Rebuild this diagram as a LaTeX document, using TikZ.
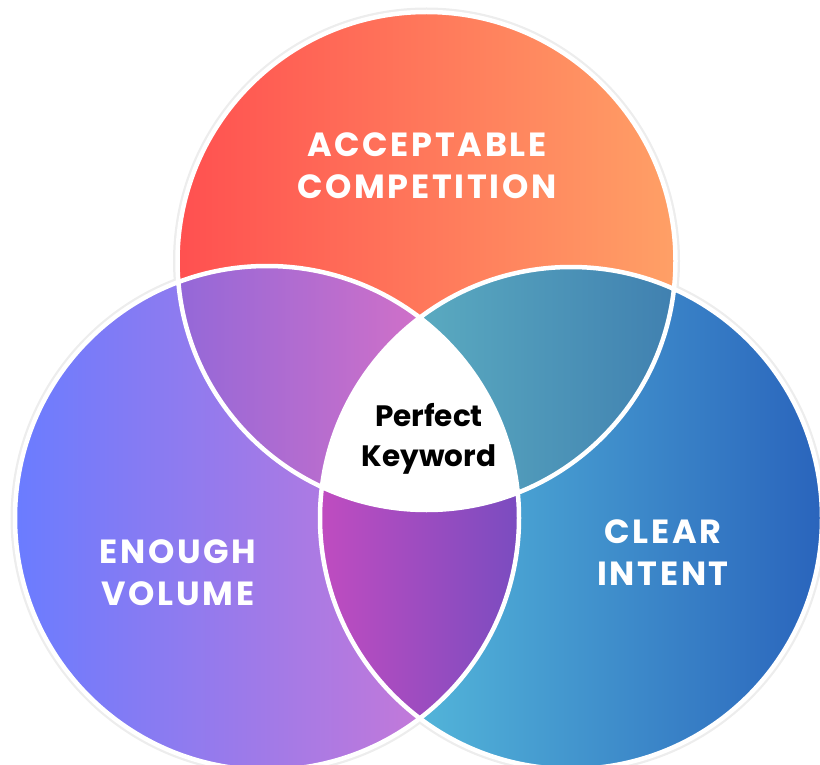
\documentclass[tikz,border=0pt]{standalone}
\usepackage{fontspec}
\setmainfont{Poppins}
\newfontfamily\capsfont{Poppins}[LetterSpace=8]

\definecolor{topA}{HTML}{FF5050}
\definecolor{topB}{HTML}{FFA066}
\definecolor{leftA}{HTML}{6A7CFF}
\definecolor{leftB}{HTML}{D878D0}
\definecolor{rightA}{HTML}{5CC8E0}
\definecolor{rightB}{HTML}{2A64BC}
\definecolor{tlA}{HTML}{9468D8}
\definecolor{tlB}{HTML}{D070C8}
\definecolor{trA}{HTML}{5AAAC0}
\definecolor{trB}{HTML}{4080B0}
\definecolor{botA}{HTML}{C04CC0}
\definecolor{botM}{HTML}{B43CE0}
\definecolor{botB}{HTML}{7A4CC0}

\begin{document}
\begin{tikzpicture}[x=1pt, y=-1pt,
	caption/.style={text=white, align=center, font=\capsfont\bfseries\fontsize{33.5}{42}\selectfont},
	centre/.style={text=black, align=center, font=\bfseries\fontsize{29.5}{40}\selectfont}]
	
	% 1. Centres and radii of the three sets
	\def\radT{249}
	\def\radL{252}
	\def\radR{251}
	\coordinate (T) at (426.5,261);
	\coordinate (L) at (267,518);
	\coordinate (R) at (571,518);
	
	\useasboundingbox (0,0) rectangle (820,765);
	\clip (0,0) rectangle (820,765);
	
	% 2. Faint halo round the outside
	\draw[black!7, line width=9pt] (T) circle (\radT) (L) circle (\radL) (R) circle (\radR);
	
	% 3. The three sets
	\shade[left color=topA, right color=topB] (T) circle (\radT);
	\shade[left color=leftA, right color=leftB] (L) circle (\radL);
	\shade[left color=rightA, right color=rightB] (R) circle (\radR);
	
	% 4. Pairwise overlaps
	\begin{scope}
		\clip (T) circle (\radT);
		\clip (L) circle (\radL);
		\shade[left color=tlA, right color=tlB] (178,260) rectangle (422,510);
	\end{scope}
	\begin{scope}
		\clip (T) circle (\radT);
		\clip (R) circle (\radR);
		\shade[left color=trA, right color=trB] (420,260) rectangle (676,510);
	\end{scope}
	\begin{scope}
		\clip (L) circle (\radL);
		\clip (R) circle (\radR);
		\shade[left color=botA, middle color=botM, right color=botB] (320,300) rectangle (520,740);
	\end{scope}
	
	% 5. Middle where all three meet
	\begin{scope}
		\clip (T) circle (\radT);
		\clip (L) circle (\radL);
		\fill[white] (R) circle (\radR);
	\end{scope}
	
	% 6. White rims on top
	\draw[white, line width=4.5pt] (T) circle (\radT) (L) circle (\radL) (R) circle (\radR);
	
	% 7. Labels
	\node[caption] (competition) at (427,166) {ACCEPTABLE\\COMPETITION};
	\node[caption] (volume) at (178,573) {ENOUGH\\VOLUME};
	\node[caption] (intent) at (663,553) {CLEAR\\INTENT};
	\node[centre] (keyword) at (429,439) {Perfect\\Keyword};
	
\end{tikzpicture}
\end{document}
